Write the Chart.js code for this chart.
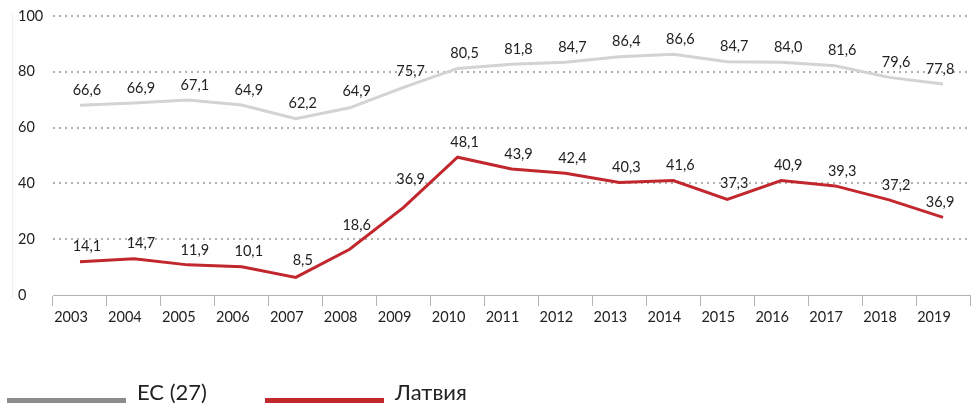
<!DOCTYPE html>
<html><head><meta charset="utf-8">
<script src="https://cdn.jsdelivr.net/npm/chart.js@4/dist/chart.umd.min.js"></script>
<style>html,body{margin:0;padding:0;background:#fff}#wrap{width:972px;height:415px;position:relative}</style>
</head><body><div id="wrap"><canvas id="c" width="972" height="415"></canvas></div>
<script>
const years = ['2003','2004','2005','2006','2007','2008','2009','2010','2011','2012','2013','2014','2015','2016','2017','2018','2019'];
const euLine = [68.0,68.8,69.9,68.1,63.2,67.1,74.4,81.2,82.7,83.4,85.4,86.3,83.6,83.4,82.2,78.0,75.6];
const lvLine = [11.9,13.0,10.8,10.1,6.3,16.4,31.4,49.4,45.2,43.6,40.3,41.0,34.3,41.0,39.1,34.1,27.8];
const euLabels = ['66,6','66,9','67,1','64,9','62,2','64,9','75,7','80,5','81,8','84,7','86,4','86,6','84,7','84,0','81,6','79,6','77,8'];
const lvLabels = ['14,1','14,7','11,9','10,1','8,5','18,6','36,9','48,1','43,9','42,4','40,3','41,6','37,3','40,9','39,3','37,2','36,9'];
const yTicks = [0,20,40,60,80,100];
const seriesNames = ['ЕС (27)','Латвия'];
const lineColors = ['#d3d3d3','#c1272d'];
const legendColors = ['#8c8c8c','#c1272d'];
const FONT = 'Lato, "Noto Sans", sans-serif';

function segHitsBox(p, q, box){
  for (let t = 0; t <= 1; t += 0.02){
    const x = p.x + (q.x - p.x) * t, y = p.y + (q.y - p.y) * t;
    if (x >= box.l && x <= box.r && y >= box.t && y <= box.b) return true;
  }
  return false;
}

const labelPlugin = {
  id:'labels',
  afterDatasetsDraw(chart){
    const ctx = chart.ctx;
    ctx.save();
    ctx.font = '14.5px ' + FONT;
    ctx.fillStyle = '#222';
    ctx.textAlign = 'center';
    ctx.textBaseline = 'middle';
    const sets = [euLabels, lvLabels];
    chart.data.datasets.forEach((ds,i)=>{
      const pts = chart.getDatasetMeta(i).data;
      pts.forEach((pt,j)=>{
        const txt = sets[i][j];
        const w = ctx.measureText(txt).width;
        const dx = j === pts.length - 1 ? -3 : 7;
        let dy = -15;
        for (; dy > -40; dy--){
          const cx = pt.x + dx, cy = pt.y + dy;
          const box = {l:cx - w/2, r:cx + w/2, t:cy - 7, b:cy + 8};
          let hit = false;
          if (j > 0 && segHitsBox(pts[j-1], pt, box)) hit = true;
          if (j < pts.length - 1 && segHitsBox(pt, pts[j+1], box)) hit = true;
          if (!hit) break;
        }
        ctx.fillText(txt, pt.x + dx, pt.y + dy);
      });
    });
    ctx.restore();
  }
};
const extraPlugin = {
  id:'extra',
  beforeDraw(chart){
    const ctx = chart.ctx;
    const y = chart.scales.y;
    ctx.save();
    ctx.strokeStyle = '#e2e2e2';
    ctx.lineWidth = 1;
    ctx.setLineDash([1,1]);
    ctx.beginPath();
    ctx.moveTo(y.left - 5.5, chart.chartArea.top - 4);
    ctx.lineTo(y.left - 5.5, chart.chartArea.bottom + 2);
    ctx.stroke();
    ctx.restore();
  },
  afterDraw(chart){
    const ctx = chart.ctx;
    ctx.save();
    ctx.font = '22px ' + FONT;
    ctx.textBaseline = 'middle';
    let x = 7;
    const yLine = 398;
    seriesNames.forEach((n,i)=>{
      ctx.fillStyle = legendColors[i];
      ctx.fillRect(x, yLine, 119, 5);
      ctx.fillStyle = '#222';
      ctx.textAlign = 'left';
      ctx.fillText(n, x + 130, yLine - 5);
      x += 258;
    });
    ctx.restore();
  }
};

new Chart(document.getElementById('c'), {
  type:'line',
  data:{
    labels: years,
    datasets: seriesNames.map((n,i)=>({
      label:n,
      data: i===0 ? euLine : lvLine,
      borderColor: lineColors[i],
      backgroundColor: lineColors[i],
      borderWidth: 3,
      pointRadius: 0,
      tension: 0,
      fill:false
    }))
  },
  options:{
    responsive:false,
    animation:false,
    layout:{padding:{left:18,right:2,top:16,bottom:88}},
    plugins:{legend:{display:false},tooltip:{enabled:false}},
    scales:{
      x:{
        offset:true,
        grid:{offset:true,drawOnChartArea:false,drawTicks:true,tickLength:11,color:'#b4b4b4',lineWidth:1},
        border:{display:true,color:'#b4b4b4',width:1},
        ticks:{font:{family:FONT,size:14.5},color:'#222',padding:3,maxRotation:0,autoSkip:false,labelOffset:-9},
        afterFit(s){ s.height = 32; }
      },
      y:{
        min:0,max:100,
        afterBuildTicks(s){ s.ticks = yTicks.map(v=>({value:v})); },
        grid:{drawTicks:false,lineWidth:2,color:(c)=> c.tick && c.tick.value===0 ? 'rgba(0,0,0,0)' : '#b0b0b0'},
        border:{display:false,dash:[2,4]},
        ticks:{font:{family:FONT,size:14.5},color:'#222',crossAlign:'far',padding:0},
        afterFit(s){ s.width = 35; }
      }
    }
  },
  plugins:[labelPlugin, extraPlugin]
});
</script></body></html>
